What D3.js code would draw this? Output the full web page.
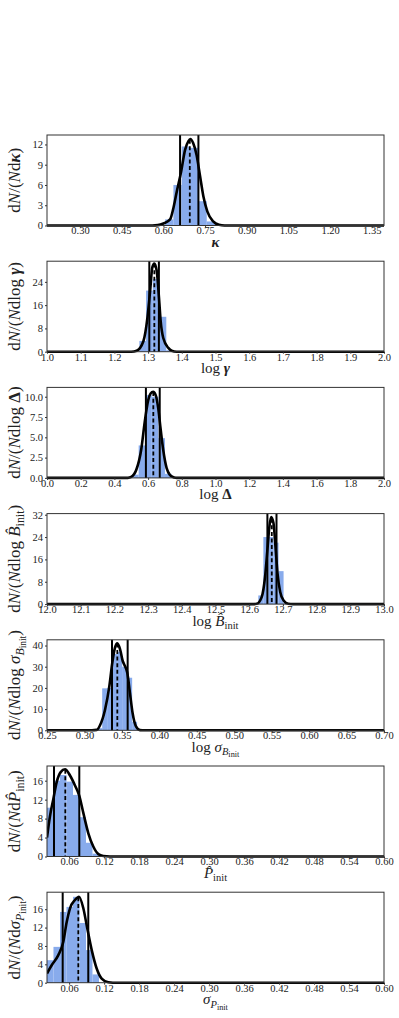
<!DOCTYPE html>
<html>
<head>
<meta charset="utf-8">
<script src="https://cdn.jsdelivr.net/npm/d3@7"></script>
<style>
  body { margin: 0; background: #fff; }
  svg text { font-family: 'Liberation Serif', 'DejaVu Serif', serif; fill: #222; }
</style>
</head>
<body>
<div id="vis"></div>
<script>
// ---- data ----

// kappa
var kappaEdges = [0.606, 0.636, 0.666, 0.696, 0.726, 0.756, 0.786];
var kappaHeights = [0.9, 6.0, 11.7, 11.5, 3.6, 0.6];
var kappaKde = [[0.181, 0], [0.56, 0], [0.58, 0.05], [0.60, 0.3], [0.624, 0.9], [0.636, 2.6], [0.648, 5.0],
  [0.663, 7.8], [0.678, 11.2], [0.69, 12.5], [0.697, 12.8], [0.707, 12.2], [0.719, 10.5], [0.732, 7.3],
  [0.744, 4.3], [0.758, 2.1], [0.779, 0.6], [0.80, 0.1], [0.82, 0], [1.394, 0]];
var kappaStats = [0.660, 0.695, 0.726]; // lower, median, upper
var kappaTicks = [0.30, 0.45, 0.60, 0.75, 0.90, 1.05, 1.20, 1.35];
var kappaYTicks = [0, 3, 6, 9, 12];

// log gamma
var gammaEdges = [1.274, 1.294, 1.314, 1.334, 1.354, 1.374];
var gammaHeights = [3.7, 21, 25, 12, 0.5];
var gammaKde = [[1.0, 0], [1.25, 0], [1.266, 0.35], [1.286, 3.6], [1.298, 11.7], [1.306, 20.9], [1.3125, 29],
  [1.3185, 30.3], [1.3255, 27.8], [1.3323, 18.6], [1.3373, 10.5], [1.345, 4.7], [1.36, 1.3], [1.37, 0.35],
  [1.385, 0], [2.0, 0]];
var gammaStats = [1.3036, 1.3185, 1.332];
var gammaTicks = [1.0, 1.1, 1.2, 1.3, 1.4, 1.5, 1.6, 1.7, 1.8, 1.9, 2.0];
var gammaYTicks = [0, 8, 16, 24];

// log Delta
var deltaEdges = [0.505, 0.544, 0.583, 0.622, 0.661, 0.700, 0.739];
var deltaHeights = [0.4, 4.0, 10.2, 10.0, 4.9, 0.5];
var deltaKde = [[0, 0], [0.48, 0], [0.50, 0.12], [0.53, 1.0], [0.56, 3.6], [0.58, 6.9], [0.60, 9.5], [0.615, 10.4],
  [0.63, 10.6], [0.645, 10.2], [0.66, 8.6], [0.675, 5.9], [0.69, 3.4], [0.71, 1.2], [0.73, 0.35], [0.755, 0.05],
  [0.77, 0], [2.0, 0]];
var deltaStats = [0.587, 0.631, 0.669];
var deltaTicks = [0.0, 0.2, 0.4, 0.6, 0.8, 1.0, 1.2, 1.4, 1.6, 1.8, 2.0];
var deltaYTicks = [0.0, 2.5, 5.0, 7.5, 10.0];

// log B_init
var bEdges = [12.627, 12.642, 12.657, 12.672, 12.687, 12.702, 12.717];
var bHeights = [3.1, 24, 24, 22, 11.8, 0.4];
var bKde = [[12.0, 0], [12.61, 0], [12.622, 0.1], [12.637, 2.5], [12.647, 9.7], [12.654, 19.4], [12.66, 27.8],
  [12.665, 31.2], [12.672, 29], [12.678, 20.6], [12.684, 11], [12.692, 4.3], [12.702, 1.3], [12.716, 0.1],
  [12.73, 0], [13.0, 0]];
var bStats = [12.654, 12.667, 12.681];
var bTicks = [12.0, 12.1, 12.2, 12.3, 12.4, 12.5, 12.6, 12.7, 12.8, 12.9, 13.0];
var bYTicks = [0, 8, 16, 24, 32];

// log sigma_B
var sigBEdges = [0.317, 0.3237, 0.3303, 0.337, 0.3437, 0.3503, 0.357, 0.3637, 0.3703];
var sigBHeights = [1.0, 19.8, 20.0, 36.0, 37.0, 30.0, 24.8, 4.0];
var sigBKde = [[0.25, 0], [0.31, 0], [0.3164, 0.2], [0.3208, 2.4], [0.3274, 9.6], [0.3332, 20.7], [0.3372, 31.9],
  [0.3408, 39], [0.3439, 41], [0.3475, 38.3], [0.3511, 32.7], [0.3541, 30.3], [0.3572, 27.1], [0.3608, 17.5],
  [0.3644, 7.9], [0.3688, 1.9], [0.3742, 0.1], [0.38, 0], [0.70, 0]];
var sigBStats = [0.3368, 0.3439, 0.3577];
var sigBTicks = [0.25, 0.30, 0.35, 0.40, 0.45, 0.50, 0.55, 0.60, 0.65, 0.70];
var sigBYTicks = [0, 10, 20, 30, 40];

// P_init
var pEdges = [0.022, 0.0331, 0.0443, 0.0554, 0.0666, 0.0777, 0.0889, 0.1000, 0.1112];
var pHeights = [10.3, 16.0, 17.2, 15.8, 13.0, 8.3, 2.9, 0.6];
var pKde = [[0.022, 4.0], [0.0271, 8.5], [0.0328, 12.1], [0.0386, 15.7], [0.0455, 17.8], [0.0529, 18.4],
  [0.0615, 17.1], [0.07, 15.0], [0.0774, 12.8], [0.0843, 9.2], [0.0929, 4.9], [0.1014, 2.1], [0.11, 0.5],
  [0.1186, 0.1], [0.13, 0], [0.60, 0]];
var pStats = [0.034, 0.0534, 0.0774];
var pTicks = [0.06, 0.12, 0.18, 0.24, 0.30, 0.36, 0.42, 0.48, 0.54, 0.60];
var pYTicks = [0, 4, 8, 12, 16];

// sigma_P
var sigPEdges = [0.022, 0.0331, 0.0443, 0.0554, 0.0666, 0.0777, 0.0889, 0.1000, 0.1112];
var sigPHeights = [4.9, 7.8, 15.4, 16.5, 18.7, 13.0, 7.1, 1.8];
var sigPKde = [[0.022, 2.0], [0.030, 3.8], [0.0414, 6.0], [0.05, 8.9], [0.0558, 13.2], [0.0615, 16.2],
  [0.07, 18.0], [0.0769, 18.7], [0.0843, 16.2], [0.0911, 11.8], [0.0987, 7.1], [0.1072, 3.1], [0.1158, 0.9],
  [0.1271, 0.1], [0.135, 0], [0.60, 0]];
var sigPStats = [0.0489, 0.0757, 0.0928];
var sigPTicks = [0.06, 0.12, 0.18, 0.24, 0.30, 0.36, 0.42, 0.48, 0.54, 0.60];
var sigPYTicks = [0, 4, 8, 12, 16];

// label pieces: [text, style, subscript level]
var panels = [
  {edges: kappaEdges, heights: kappaHeights, kde: kappaKde, stats: kappaStats, xt: kappaTicks, yt: kappaYTicks,
   xd: [0.181, 1.394], yd: [0, 13.4], xf: ".2f", yf: "d",
   xlab: [["κ", "bi"]],
   ylab: [["d"], ["N", "i"], ["/("], ["N", "i"], ["d"], ["κ", "bi"], [")"]]},
  {edges: gammaEdges, heights: gammaHeights, kde: gammaKde, stats: gammaStats, xt: gammaTicks, yt: gammaYTicks,
   xd: [1.0, 2.0], yd: [0, 31.1], xf: ".1f", yf: "d",
   xlab: [["log "], ["γ", "bi"]],
   ylab: [["d"], ["N", "i"], ["/("], ["N", "i"], ["dlog "], ["γ", "bi"], [")"]]},
  {edges: deltaEdges, heights: deltaHeights, kde: deltaKde, stats: deltaStats, xt: deltaTicks, yt: deltaYTicks,
   xd: [0, 2.0], yd: [0, 11.15], xf: ".1f", yf: ".1f",
   xlab: [["log "], ["Δ", "b"]],
   ylab: [["d"], ["N", "i"], ["/("], ["N", "i"], ["dlog "], ["Δ", "b"], [")"]]},
  {edges: bEdges, heights: bHeights, kde: bKde, stats: bStats, xt: bTicks, yt: bYTicks,
   xd: [12.0, 13.0], yd: [0, 32.4], xf: ".1f", yf: "d",
   xlab: [["log "], ["B\u0302", "i"], ["init", "r", 1]],
   ylab: [["d"], ["N", "i"], ["/("], ["N", "i"], ["dlog "], ["B\u0302", "i"], ["init", "r", 1], [")"]]},
  {edges: sigBEdges, heights: sigBHeights, kde: sigBKde, stats: sigBStats, xt: sigBTicks, yt: sigBYTicks,
   xd: [0.25, 0.70], yd: [0, 42.7], xf: ".2f", yf: "d",
   xlab: [["log "], ["σ", "i"], ["B", "i", 1], ["init", "r", 2]],
   ylab: [["d"], ["N", "i"], ["/("], ["N", "i"], ["dlog "], ["σ", "i"], ["B", "i", 1], ["init", "r", 2], [")"]]},
  {edges: pEdges, heights: pHeights, kde: pKde, stats: pStats, xt: pTicks, yt: pYTicks,
   xd: [0.022, 0.60], yd: [0, 19.1], xf: ".2f", yf: "d",
   xlab: [["P\u0302", "i"], ["init", "r", 1]],
   ylab: [["d"], ["N", "i"], ["/("], ["N", "i"], ["d"], ["P\u0302", "i"], ["init", "r", 1], [")"]]},
  {edges: sigPEdges, heights: sigPHeights, kde: sigPKde, stats: sigPStats, xt: sigPTicks, yt: sigPYTicks,
   xd: [0.022, 0.60], yd: [0, 19.7], xf: ".2f", yf: "d",
   xlab: [["σ", "i"], ["P", "i", 1], ["init", "r", 2]],
   ylab: [["d"], ["N", "i"], ["/("], ["N", "i"], ["d"], ["σ", "i"], ["P", "i", 1], ["init", "r", 2], [")"]]}
];

// ---- layout ----
var W = 399, H = 1018;
var left = 47, right = 384;
var top0 = 135, step = 126.2, ph = 90.5;
var barColor = "#88abec";

var svg = d3.select("#vis").append("svg")
  .attr("width", W)
  .attr("height", H);

// write math-ish label with tspans (italic / bold / subscripts)
function mathText(textSel, parts, size) {
  var cur = 0;
  parts.forEach(function(p) {
    var lvl = p[2] || 0;
    var fs = size * (lvl == 0 ? 1 : (lvl == 1 ? 0.7 : 0.55));
    var off = lvl == 0 ? 0 : (lvl == 1 ? size * 0.22 : size * 0.36);
    var st = p[1] || "r";
    textSel.append("tspan")
      .attr("dy", off - cur)
      .style("font-size", fs + "px")
      .style("font-style", st.indexOf("i") >= 0 ? "italic" : "normal")
      .style("font-weight", st.indexOf("b") >= 0 ? "bold" : "normal")
      .text(p[0]);
    cur = off;
  });
}

// linear lookup in kde points (for median line height)
function kdeAt(kde, v) {
  for (var i = 1; i < kde.length; i++) {
    if (kde[i][0] >= v) {
      var a = kde[i - 1], b = kde[i];
      var t = (v - a[0]) / (b[0] - a[0]);
      return a[1] + t * (b[1] - a[1]);
    }
  }
  return 0;
}

panels.forEach(function(p, k) {
  var top = top0 + k * step;
  var x = d3.scaleLinear().domain(p.xd).range([left, right]);
  var y = d3.scaleLinear().domain(p.yd).range([top + ph, top]);

  var g = svg.append("g");

  g.append("clipPath").attr("id", "clip" + k)
    .append("rect")
    .attr("x", left).attr("y", top - 1)
    .attr("width", right - left).attr("height", ph + 3);

  var body = g.append("g").attr("clip-path", "url(#clip" + k + ")");

  // histogram bars
  body.selectAll("rect.bar")
    .data(p.heights)
    .enter().append("rect")
    .attr("class", "bar")
    .attr("x", function(d, i) { return x(p.edges[i]); })
    .attr("width", function(d, i) { return x(p.edges[i + 1]) - x(p.edges[i]); })
    .attr("y", function(d) { return y(d); })
    .attr("height", function(d) { return y(0) - y(d); })
    .attr("fill", barColor);

  // kde curve
  var line = d3.line()
    .x(function(d) { return x(d[0]); })
    .y(function(d) { return y(d[1]); })
    .curve(d3.curveMonotoneX);

  body.append("path")
    .datum(p.kde)
    .attr("d", line)
    .attr("fill", "none")
    .attr("stroke", "#000")
    .attr("stroke-width", 2.6)
    .attr("stroke-linejoin", "round");

  // lower / upper lines
  [p.stats[0], p.stats[2]].forEach(function(v) {
    body.append("line")
      .attr("x1", x(v)).attr("x2", x(v))
      .attr("y1", top).attr("y2", top + ph)
      .attr("stroke", "#000")
      .attr("stroke-width", 2);
  });

  // median dashed
  body.append("line")
    .attr("x1", x(p.stats[1])).attr("x2", x(p.stats[1]))
    .attr("y1", y(kdeAt(p.kde, p.stats[1]))).attr("y2", top + ph)
    .attr("stroke", "#000")
    .attr("stroke-width", 1.8)
    .attr("stroke-dasharray", "4,2.6");

  // frame
  g.append("rect")
    .attr("x", left).attr("y", top)
    .attr("width", right - left).attr("height", ph)
    .attr("fill", "none")
    .attr("stroke", "#333")
    .attr("stroke-width", 1);

  // axes
  var xa = g.append("g")
    .attr("transform", "translate(0," + (top + ph) + ")")
    .call(d3.axisBottom(x).tickValues(p.xt).tickFormat(d3.format(p.xf)).tickSize(2).tickPadding(-0.5).tickSizeOuter(0));
  var ya = g.append("g")
    .attr("transform", "translate(" + left + ",0)")
    .call(d3.axisLeft(y).tickValues(p.yt).tickFormat(d3.format(p.yf)).tickSize(2).tickPadding(2).tickSizeOuter(0));
  [xa, ya].forEach(function(a) {
    a.select(".domain").remove();
    a.selectAll("line").attr("stroke", "#333");
    a.selectAll("text").style("font-size", "10.5px").style("font-family", "'Liberation Serif', serif").attr("fill", "#222");
  });

  // x label
  var xl = g.append("text")
    .attr("x", (left + right) / 2)
    .attr("y", top + ph + 21.5)
    .attr("text-anchor", "middle");
  mathText(xl, p.xlab, 15);

  // y label
  var yl = g.append("text")
    .attr("transform", "translate(20," + (top + ph / 2) + ") rotate(-90)")
    .attr("text-anchor", "middle");
  mathText(yl, p.ylab, 17);
});
</script>
</body>
</html>
